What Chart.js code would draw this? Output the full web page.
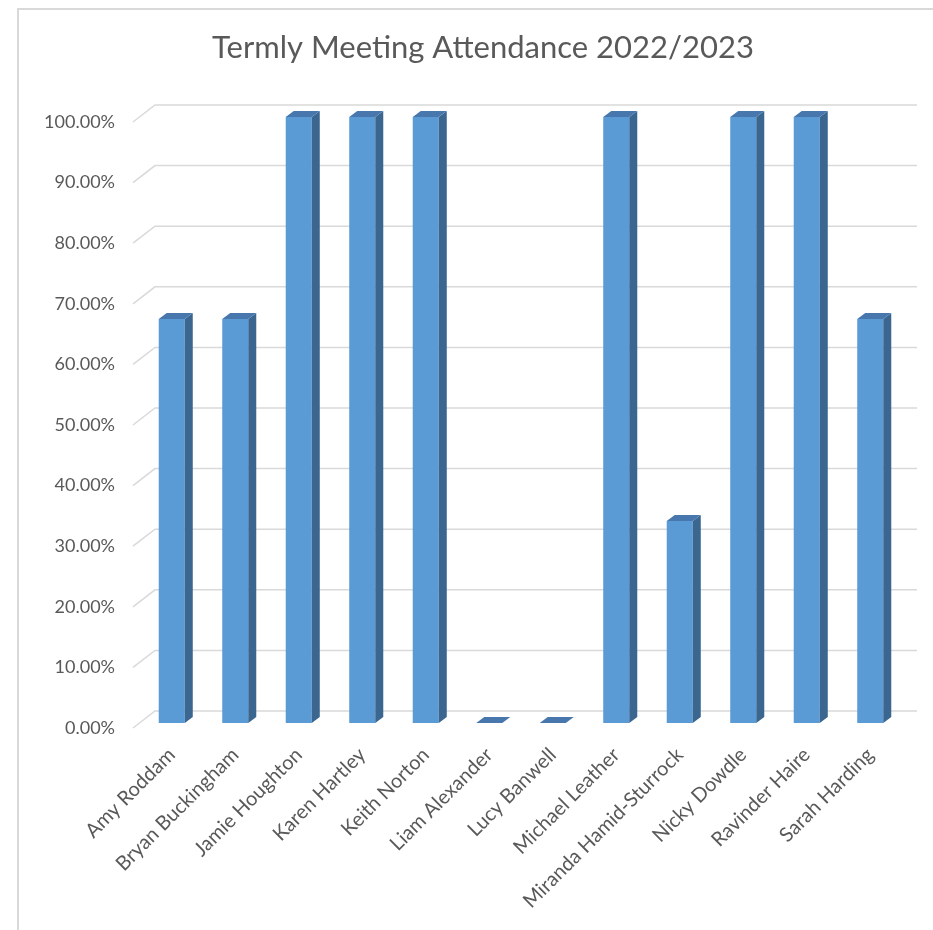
<!DOCTYPE html>
<html>
<head>
<meta charset="utf-8">
<script src="https://cdn.jsdelivr.net/npm/chart.js@4/dist/chart.umd.min.js"></script>
<style>
    html, body { margin: 0; padding: 0; background: #fff; overflow: hidden; }
    canvas { display: block; }
</style>
</head>
<body>
<canvas id="attendanceChart" width="933" height="930"></canvas>
<script>
// Termly meeting attendance (3D column look, Excel style)

const names = ['Amy Roddam', 'Bryan Buckingham', 'Jamie Houghton', 'Karen Hartley', 'Keith Norton',
    'Liam Alexander', 'Lucy Banwell', 'Michael Leather', 'Miranda Hamid-Sturrock', 'Nicky Dowdle',
    'Ravinder Haire', 'Sarah Harding'];
const attendance = [66.67, 66.67, 100, 100, 100, 0, 0, 100, 33.33, 100, 100, 66.67];
const yTicks = [0, 10, 20, 30, 40, 50, 60, 70, 80, 90, 100];
const chartTitle = 'Termly Meeting Attendance 2022/2023';

const textColor = '#595959';
const gridColor = '#D9D9D9';
const depthX = 8, depthY = -6;

// gridlines drawn with a little perspective + side/top faces of the bars
const threeD = {
    id: 'threeD',
    beforeDraw(chart) {
        // chart frame: only the top and left edges fall inside the picture
        const ctx = chart.ctx;
        ctx.save();
        ctx.strokeStyle = gridColor;
        ctx.lineWidth = 2;
        ctx.beginPath();
        ctx.moveTo(18, chart.height);
        ctx.lineTo(18, 9);
        ctx.lineTo(chart.width, 9);
        ctx.stroke();
        ctx.restore();
    },
    beforeDatasetsDraw(chart) {
        const ctx = chart.ctx;
        const y = chart.scales.y;
        const area = chart.chartArea;
        ctx.save();
        ctx.strokeStyle = gridColor;
        ctx.lineWidth = 1.5;
        yTicks.forEach(v => {
            const py = y.getPixelForValue(v);
            ctx.beginPath();
            ctx.moveTo(area.left - 7, py + 5);
            ctx.lineTo(area.left + 15, py - 12);
            ctx.lineTo(area.right + 15, py - 12);
            ctx.stroke();
        });
        ctx.restore();
    },
    afterDatasetsDraw(chart) {
        const ctx = chart.ctx;
        const meta = chart.getDatasetMeta(0);
        ctx.save();
        meta.data.forEach(bar => {
            const p = bar.getProps(['x', 'y', 'base', 'width'], true);
            const l = p.x - p.width / 2, r = p.x + p.width / 2;
            // side
            ctx.fillStyle = '#3A6690';
            ctx.beginPath();
            ctx.moveTo(r, p.y);
            ctx.lineTo(r + depthX, p.y + depthY);
            ctx.lineTo(r + depthX, p.base + depthY);
            ctx.lineTo(r, p.base);
            ctx.closePath();
            ctx.fill();
            // top
            ctx.fillStyle = '#4777AC';
            ctx.beginPath();
            ctx.moveTo(l, p.y);
            ctx.lineTo(l + depthX, p.y + depthY);
            ctx.lineTo(r + depthX, p.y + depthY);
            ctx.lineTo(r, p.y);
            ctx.closePath();
            ctx.fill();
        });
        ctx.restore();
    },
    afterDraw(chart) {
        // title sits centred on the whole frame, not on the plot
        const ctx = chart.ctx;
        ctx.save();
        ctx.fillStyle = textColor;
        ctx.font = '31px Lato';
        ctx.textAlign = 'center';
        ctx.textBaseline = 'middle';
        ctx.fillText(chartTitle, 483, 48);
        ctx.restore();
    }
};

new Chart(document.getElementById('attendanceChart'), {
    type: 'bar',
    data: {
        labels: names,
        datasets: [{
            data: attendance,
            backgroundColor: '#5B9BD5',
            borderWidth: 0,
            categoryPercentage: 1,
            barPercentage: 0.41
        }]
    },
    options: {
        responsive: false,
        animation: false,
        devicePixelRatio: 1,
        layout: { padding: { left: 0, right: 31, top: 117, bottom: 0 } },
        plugins: {
            legend: { display: false },
            tooltip: { enabled: false },
            title: { display: false }
        },
        scales: {
            y: {
                min: 0,
                max: 100,
                afterFit(scale) { scale.width = 140; },
                afterBuildTicks(scale) { scale.ticks = yTicks.map(v => ({ value: v })); },
                grid: { display: false, drawTicks: false },
                border: { display: false },
                ticks: {
                    color: textColor,
                    font: { family: 'Lato', size: 18 },
                    padding: 25,
                    labelOffset: 5,
                    callback: v => v.toFixed(2) + '%'
                }
            },
            x: {
                afterFit(scale) { scale.height = 207; },
                grid: { display: false, drawTicks: false },
                border: { display: false },
                ticks: {
                    color: textColor,
                    font: { family: 'Lato', size: 20 },
                    minRotation: 45,
                    maxRotation: 45,
                    padding: 20,
                    autoSkip: false
                }
            }
        }
    },
    plugins: [threeD]
});
</script>
</body>
</html>
